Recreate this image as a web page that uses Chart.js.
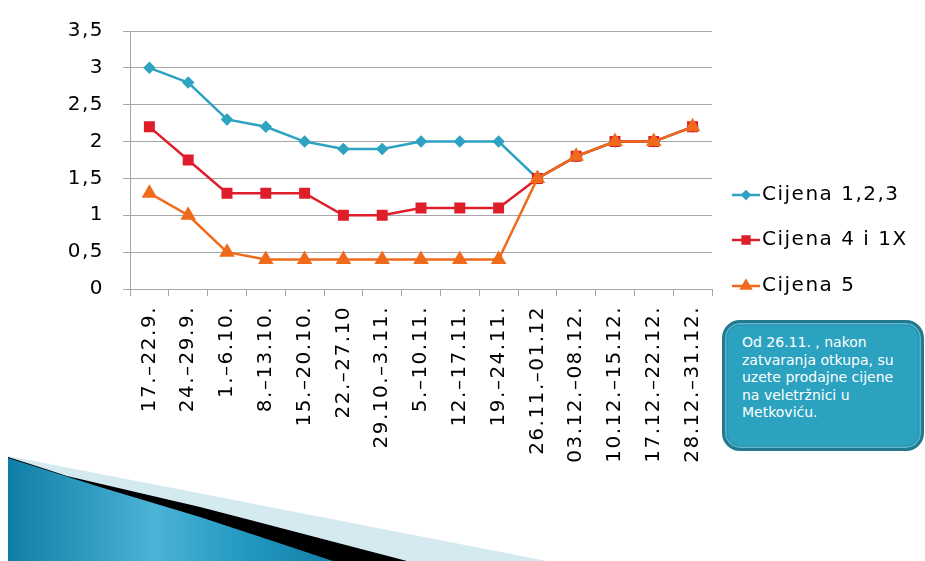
<!DOCTYPE html>
<html><head><meta charset="utf-8">
<script src="https://cdn.jsdelivr.net/npm/chart.js@4.4.0/dist/chart.umd.min.js"></script>
<style>
html,body{margin:0;padding:0;background:#fff;width:925px;height:561px;overflow:hidden;font-family:"DejaVu Sans",sans-serif}
#wrap{position:absolute;left:0;top:0;width:925px;height:561px}
#deco{position:absolute;left:0;top:0}
#note{position:absolute;left:722px;top:320px;width:202px;height:131px;box-sizing:border-box;background:#2ba2bf;border:3px solid #23798f;border-radius:18px;box-shadow:inset 0 0 0 1.5px #5ab7cf, inset 0 0 0 2.5px #2a8aa3;color:#fff;font-size:14px;line-height:17.5px;padding:11px 4px 0 17px;white-space:nowrap}
</style></head><body>
<svg id="deco" width="925" height="561">
<defs><linearGradient id="g" x1="0" y1="0" x2="1" y2="0">
<stop offset="0" stop-color="#0f7ea6"/><stop offset="0.45" stop-color="#4bb3d6"/><stop offset="0.75" stop-color="#2096c0"/><stop offset="1" stop-color="#137fa6"/></linearGradient></defs>
<polygon points="8,456 547,561 8,561" fill="#d5e9f1"/>
<path d="M8,457 Q40,467 67,476 L200,507 L407,561 L8,561 Z" fill="#000"/>
<path d="M8,458 L100,487 L200,517 L333,561 L8,561 Z" fill="url(#g)"/>
</svg>
<div id="wrap"><canvas id="c" width="925" height="561"></canvas></div>
<div id="note">Od 26.11. , nakon<br>zatvaranja otkupa, su<br>uzete prodajne cijene<br>na veletržnici u<br>Metkoviću.</div>
<script>
const categories = ["17.–22.9.","24.–29.9.","1.–6.10.","8.–13.10.","15.–20.10.","22.–27.10","29.10.–3.11.","5.–10.11.","12.–17.11.","19.–24.11.","26.11.–01.12","03.12.–08.12.","10.12.–15.12.","17.12.–22.12.","28.12.–31.12."];
const cijena123 = [3, 2.8, 2.3, 2.2, 2.0, 1.9, 1.9, 2.0, 2.0, 2.0, 1.5, 1.8, 2.0, 2.0, 2.2];
const cijena4i1X = [2.2, 1.75, 1.3, 1.3, 1.3, 1.0, 1.0, 1.1, 1.1, 1.1, 1.5, 1.8, 2.0, 2.0, 2.2];
const cijena5 = [1.3, 1.0, 0.5, 0.4, 0.4, 0.4, 0.4, 0.4, 0.4, 0.4, 1.5, 1.8, 2.0, 2.0, 2.2];
const seriesNames = ["Cijena 1,2,3", "Cijena 4 i 1X", "Cijena 5"];
const yTickLabels = ["0","0,5","1","1,5","2","2,5","3","3,5"];

const FONT = '"DejaVu Sans", sans-serif';
const colors = ["#2ea3c1", "#de1f2b", "#f06a1c"];
const styles = ["rectRot", "rect", "triangle"];
const radii = [4.5, 6, 6.5];

const spacingPlugin = {
  id: 'spacing',
  beforeUpdate(chart) { chart.ctx.letterSpacing = '1.5px'; },
  beforeDraw(chart) { chart.ctx.letterSpacing = '1.5px'; }
};

const legendPlugin = {
  id: 'customLegend',
  afterDraw(chart) {
    const ctx = chart.ctx;
    const ys = [195, 240, 286];
    chart.data.datasets.forEach((ds, i) => {
      const y = ys[i];
      ctx.save();
      ctx.strokeStyle = ds.borderColor; ctx.lineWidth = 2.5;
      ctx.beginPath(); ctx.moveTo(732, y); ctx.lineTo(760, y); ctx.stroke();
      Chart.helpers.drawPoint(ctx, {pointStyle: ds.pointStyle, radius: ds.pointRadius * 0.8, borderWidth: 1}, 746, y);
      ctx.fillStyle = ds.borderColor;
      ctx.fill();
      ctx.fillStyle = '#000';
      ctx.font = '20px ' + FONT;
      ctx.letterSpacing = '1.5px';
      ctx.textBaseline = 'middle';
      ctx.textAlign = 'left';
      ctx.fillText(ds.label, 762, y);
      ctx.restore();
    });
  }
};

const data = {
  labels: categories,
  datasets: [cijena123, cijena4i1X, cijena5].map((vals, i) => ({
    label: seriesNames[i],
    data: vals,
    borderColor: colors[i],
    backgroundColor: colors[i],
    pointBackgroundColor: colors[i],
    pointBorderColor: colors[i],
    pointStyle: styles[i],
    pointRadius: radii[i],
    pointHoverRadius: radii[i],
    borderWidth: 2.5,
    tension: 0,
    order: 3 - i
  }))
};

new Chart(document.getElementById('c'), {
  type: 'line',
  data,
  options: {
    responsive: false,
    animation: false,
    events: [],
    layout: { padding: { top: 30, right: 213, bottom: 0, left: 0 } },
    plugins: { legend: { display: false }, tooltip: { enabled: false } },
    scales: {
      x: {
        offset: true,
        grid: { offset: true, drawOnChartArea: false, drawTicks: true, tickLength: 7, color: '#a6a6a6', lineWidth: 1 },
        border: { color: '#a6a6a6', width: 1 },
        ticks: { color: '#000', font: { family: FONT, size: 20 }, maxRotation: 90, minRotation: 90, padding: 10, autoSkip: false },
        afterFit: s => { s.height = 561 - 289; }
      },
      y: {
        min: 0, max: 3.5,
        grid: { color: '#a6a6a6', lineWidth: 1, tickLength: 7, drawTicks: true },
        border: { color: '#a6a6a6', width: 1 },
        ticks: { stepSize: 0.5, color: '#000', font: { family: FONT, size: 20 }, padding: 19,
          callback: (v) => yTickLabels[Math.round(v * 2)] },
        afterFit: s => { s.width = 130; }
      }
    }
  },
  plugins: [spacingPlugin, legendPlugin]
});
</script>
</body></html>
